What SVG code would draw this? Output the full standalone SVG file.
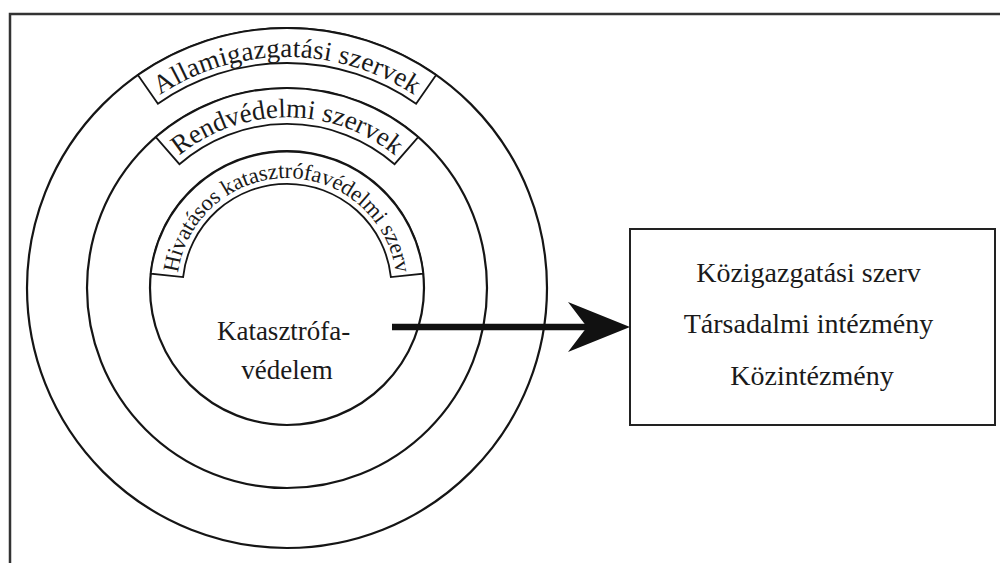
<svg xmlns="http://www.w3.org/2000/svg" xmlns:xlink="http://www.w3.org/1999/xlink" width="1000" height="563" viewBox="0 0 1000 563">
  <style>
    .ring { fill: none; stroke: #151515; stroke-width: 2.2; }
    .band { fill: #ffffff; stroke: #151515; stroke-width: 1.8; stroke-linejoin: miter; }
    .lbl { font-family: "Liberation Serif", "Times New Roman", serif; fill: #1a1a1a; }
    .box { fill: #ffffff; stroke: #222222; stroke-width: 2; }
  </style>
  <defs>
    <!-- baselines for the curved ring labels, all centred on (287,288) -->
    <path id="arcOuter" d="M69.9,209 A231,231 0 0 1 504.1,209"/>
    <path id="arcMiddle" d="M126.4,229.6 A171,171 0 0 1 447.6,229.6"/>
    <path id="arcInner" d="M183.6,325.6 A110,110 0 1 1 390.4,325.6"/>
    <marker id="head" viewBox="0 0 62 50" refX="32" refY="25" markerWidth="62" markerHeight="50" markerUnits="userSpaceOnUse" orient="auto">
      <path d="M0,0 L62,25 L0,50 L19,25 Z" fill="#111111"/>
    </marker>
  </defs>

  <rect width="1000" height="563" fill="#ffffff"/>

  <!-- page frame (open at right and bottom) -->
  <path d="M10,563 V14 H1000" fill="none" stroke="#333333" stroke-width="2.5"/>

  <g id="allamigazgatasi">
    <circle class="ring" cx="287" cy="288" r="260"/>
    <path class="band" d="M137.9,75 A260,260 0 0 1 436.1,75 L416.1,103.7 A225,225 0 0 0 157.9,103.7 Z"/>
    <text class="lbl" font-size="27" letter-spacing="0.2"><textPath xlink:href="#arcOuter" startOffset="50%" text-anchor="middle">Allamigazgatási szervek</textPath></text>
  </g>

  <g id="rendvedelmi">
    <circle class="ring" cx="287" cy="288" r="200"/>
    <path class="band" d="M155.8,137.1 A200,200 0 0 1 418.2,137.1 L394.6,164.2 A164,164 0 0 0 179.4,164.2 Z"/>
    <text class="lbl" font-size="27"><textPath xlink:href="#arcMiddle" startOffset="50%" text-anchor="middle">Rendvédelmi szervek</textPath></text>
  </g>

  <g id="hivatasos">
    <circle class="ring" cx="287" cy="288" r="137"/>
    <path class="band" d="M150.8,273.7 A137,137 0 0 1 423.2,273.7 L390.9,277.1 A104.5,104.5 0 0 0 183.1,277.1 Z"/>
    <text class="lbl" font-size="22.5" letter-spacing="-0.1"><textPath xlink:href="#arcInner" startOffset="50%" text-anchor="middle">Hivatásos katasztrófavédelmi szerv</textPath></text>
    <text class="lbl" font-size="27" text-anchor="middle">
      <tspan x="287" y="340">Katasztrófa-</tspan>
      <tspan x="287" y="379">védelem</tspan>
    </text>
  </g>

  <g id="intezmenyek">
    <rect class="box" x="630" y="229" width="365" height="196"/>
    <text class="lbl" font-size="28" text-anchor="middle">
      <tspan x="812" y="282">Közigazgatási szerv</tspan>
      <tspan x="812" y="333">Társadalmi intézmény</tspan>
      <tspan x="812" y="385">Közintézmény</tspan>
    </text>
  </g>

  <g id="connectors">
    <line x1="392" y1="327" x2="600" y2="327" stroke="#111111" stroke-width="6.5" marker-end="url(#head)"/>
  </g>
</svg>
